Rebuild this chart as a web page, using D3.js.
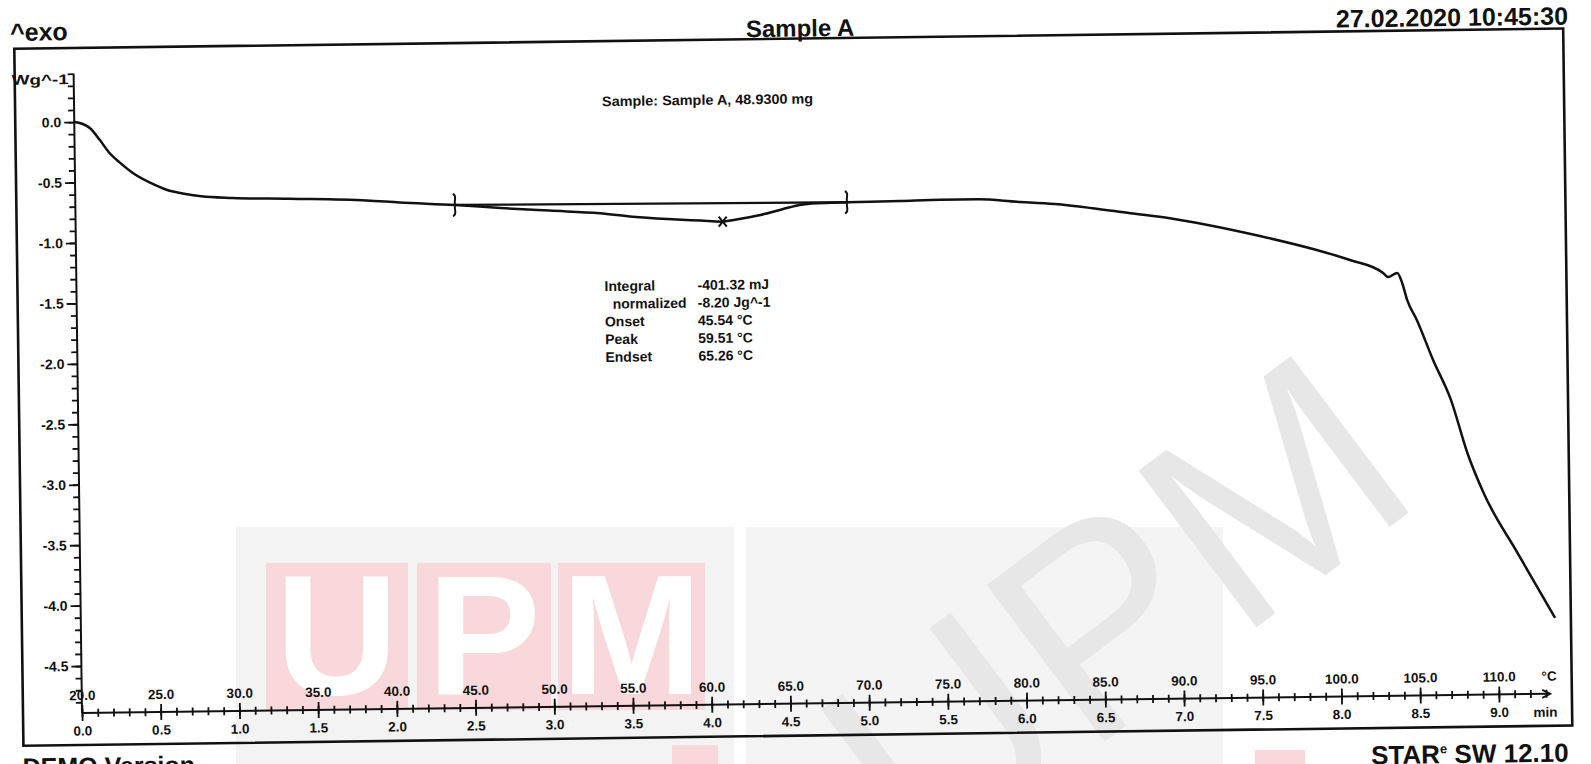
<!DOCTYPE html>
<html>
<head>
<meta charset="utf-8">
<script src="https://cdn.jsdelivr.net/npm/d3@7"></script>
<style>
  html, body { margin: 0; padding: 0; background: #ffffff; }
  svg { display: block; font-family: "Liberation Sans", Arial, sans-serif; }
</style>
</head>
<body>
<svg id="chart" width="1591" height="764"></svg>
<script>
// ---- DSC heating run: sample temperature (°C) and heat flow (W/g) ----
const temperature = [
  20.0, 20.5, 21.0, 21.6, 22.2, 22.9, 23.7, 24.8, 25.8, 27.0, 28.0, 30.0,
  33.6, 38.5, 40.6, 44.1, 47.0, 50.1, 53.3, 55.4, 57.6, 59.7, 61.1, 61.8,
  63.5, 64.9, 66.0, 67.1, 69.0, 72.4, 75.0, 77.3, 79.8, 82.2, 84.6, 87.0,
  89.5, 91.9, 95.2, 98.8, 100.9, 103.0, 103.3, 103.9, 104.2, 104.5, 105.1,
  106.1, 107.2, 108.2, 109.2, 111.3, 113.6
];
const heatFlow = [
  0.000, -0.015, -0.053, -0.150, -0.258, -0.345, -0.430, -0.512, -0.570, -0.607, -0.628, -0.645,
  -0.658, -0.680, -0.700, -0.727, -0.757, -0.784, -0.811, -0.843, -0.866, -0.883, -0.894, -0.881,
  -0.843, -0.798, -0.764, -0.752, -0.747, -0.742, -0.737, -0.737, -0.761, -0.784, -0.823, -0.869,
  -0.914, -0.974, -1.071, -1.193, -1.279, -1.390, -1.424, -1.391, -1.475, -1.615, -1.782,
  -2.115, -2.447, -2.888, -3.221, -3.720, -4.254
];

// integration limits and the peak point of the evaluated event
const limitTemps = [44.1, 69.0];
const limitFlows = [-0.727, -0.747];
const peakTemp = 61.1;
const peakFlow = -0.894;

// axis ticks and labels
const tempTicks = [20, 25, 30, 35, 40, 45, 50, 55, 60, 65, 70, 75, 80, 85, 90, 95, 100, 105, 110];
const tempLabels = ["20.0", "25.0", "30.0", "35.0", "40.0", "45.0", "50.0", "55.0", "60.0", "65.0",
  "70.0", "75.0", "80.0", "85.0", "90.0", "95.0", "100.0", "105.0", "110.0"];
const timeTicks = [0, 0.5, 1, 1.5, 2, 2.5, 3, 3.5, 4, 4.5, 5, 5.5, 6, 6.5, 7, 7.5, 8, 8.5, 9];
const timeLabels = ["0.0", "0.5", "1.0", "1.5", "2.0", "2.5", "3.0", "3.5", "4.0", "4.5", "5.0",
  "5.5", "6.0", "6.5", "7.0", "7.5", "8.0", "8.5", "9.0"];
const flowTicks = [0, -0.5, -1, -1.5, -2, -2.5, -3, -3.5, -4, -4.5];
const flowLabels = ["0.0", "-0.5", "-1.0", "-1.5", "-2.0", "-2.5", "-3.0", "-3.5", "-4.0", "-4.5"];

// evaluation results
const resultNames = ["Integral", "normalized", "Onset", "Peak", "Endset"];
const resultValues = ["-401.32 mJ", "-8.20 Jg^-1", "45.54 °C", "59.51 °C", "65.26 °C"];

const svg = d3.select("#chart");
const INK = "#111111";

// ---- faint repository watermark in the background ----
const wm = svg.append("g").attr("class", "watermark");
wm.append("rect").attr("x", 236).attr("y", 527).attr("width", 498).attr("height", 240).attr("fill", "#f3f3f3");
wm.append("rect").attr("x", 746).attr("y", 527).attr("width", 477).attr("height", 240).attr("fill", "#f4f4f4");
const blocks = [
  { x: 266, w: 142, ch: "U" },
  { x: 417, w: 134, ch: "P" },
  { x: 558, w: 147, ch: "M" }
];
blocks.forEach(b => {
  wm.append("rect").attr("x", b.x).attr("y", 563).attr("width", b.w).attr("height", 147).attr("fill", "#f8d8da");
  wm.append("text").attr("x", b.x + b.w / 2).attr("y", 694)
    .attr("text-anchor", "middle").attr("font-size", 170).attr("font-weight", "bold")
    .attr("fill", "#ffffff").text(b.ch);
});
wm.append("rect").attr("x", 672).attr("y", 745).attr("width", 46).attr("height", 20).attr("fill", "#f8d8da");
wm.append("rect").attr("x", 1255).attr("y", 750).attr("width", 50).attr("height", 15).attr("fill", "#f8d8da");
wm.append("text")
  .attr("transform", "translate(1115,610) rotate(-37)")
  .attr("text-anchor", "middle").attr("dominant-baseline", "central")
  .attr("font-size", 285).attr("fill", "#e7e7e7").text("UPM");

// ---- plot, slightly skewed like the printed sheet ----
const g = svg.append("g").attr("transform", "rotate(-0.75 82 713)");

const x = d3.scaleLinear().domain([20, 110]).range([82, 1499]);
const t = d3.scaleLinear().domain([0, 9]).range([82, 1499]);
const y = d3.scaleLinear().domain([0, -4.5]).range([122, 666]);
const axisY = 713;          // baseline of the abscissa
const axisEndTemp = 113.2;  // arrow tip of the abscissa
const yTop = 0.4;           // upper end of the ordinate

// frame
g.append("rect").attr("x", 23).attr("y", 48).attr("width", 1549).attr("height", 697)
  .attr("fill", "none").attr("stroke", INK).attr("stroke-width", 2.6);

// header and footer texts
g.append("text").attr("x", 19).attr("y", 40).attr("font-size", 25).attr("font-weight", "bold")
  .attr("fill", INK).text("^exo");
g.append("text").attr("x", 809).attr("y", 46).attr("text-anchor", "middle").attr("font-size", 24)
  .attr("font-weight", "bold").attr("fill", INK).text("Sample A");
g.append("text").attr("x", 1577).attr("y", 44).attr("text-anchor", "end").attr("font-size", 25)
  .attr("font-weight", "bold").attr("fill", INK).text("27.02.2020 10:45:30");
const star = g.append("text").attr("x", 1568).attr("y", 781).attr("text-anchor", "end")
  .attr("font-size", 26).attr("font-weight", "bold").attr("fill", INK);
star.append("tspan").text("STAR");
star.append("tspan").attr("font-size", 13).attr("dy", -10).text("e");
star.append("tspan").attr("dy", 10).text(" SW 12.10");
g.append("text").attr("x", 22).attr("y", 775).attr("font-size", 25).attr("font-weight", "bold")
  .attr("fill", INK).text("DEMO Version");

// ---- ordinate ----
const yAx = g.append("g").attr("transform", "translate(82,0)");
yAx.append("line").attr("y1", y(yTop)).attr("y2", axisY).attr("stroke", INK).attr("stroke-width", 2);
const yMinor = d3.range(-48, 5).map(i => i / 10);
yAx.append("g").call(d3.axisLeft(y).tickValues(yMinor).tickSize(6).tickFormat(""))
  .call(s => s.select(".domain").remove());
yAx.append("g").call(d3.axisLeft(y).tickValues(flowTicks).tickSize(10).tickPadding(3)
    .tickFormat((d, i) => flowLabels[i]))
  .call(s => s.select(".domain").remove())
  .call(s => s.selectAll("text").attr("font-size", 14).attr("font-weight", "bold")
    .attr("font-family", "Liberation Sans, Arial, sans-serif").attr("fill", INK));
yAx.selectAll(".tick line").attr("stroke", INK).attr("stroke-width", 1.8);
yAx.append("text").attr("x", -62).attr("y", 84).attr("font-size", 14)
  .attr("textLength", 57).attr("lengthAdjust", "spacingAndGlyphs")
  .attr("font-weight", "bold").attr("fill", INK).text("Wg^-1");

// ---- abscissa: temperature above, time below ----
const xAx = g.append("g").attr("transform", `translate(0,${axisY})`);
xAx.append("line").attr("x1", x(20)).attr("x2", x(axisEndTemp))
  .attr("stroke", INK).attr("stroke-width", 2);
xAx.append("path")
  .attr("d", `M${x(axisEndTemp) - 7},-4 L${x(axisEndTemp) + 1},0 L${x(axisEndTemp) - 7},4`)
  .attr("fill", "none").attr("stroke", INK).attr("stroke-width", 1.8);

const minorTemps = d3.range(20, 114);
const minorTimes = minorTemps.map(v => (v - 20) / 10);
const labelFont = s => s.selectAll("text").attr("font-size", 13.5).attr("font-weight", "bold")
  .attr("font-family", "Liberation Sans, Arial, sans-serif").attr("fill", INK);

xAx.append("g").call(d3.axisTop(x).tickValues(minorTemps).tickSize(4).tickFormat(""))
  .call(s => s.select(".domain").remove());
xAx.append("g").call(d3.axisBottom(t).tickValues(minorTimes).tickSize(4).tickFormat(""))
  .call(s => s.select(".domain").remove());
xAx.append("g").call(d3.axisTop(x).tickValues(tempTicks).tickSize(8).tickPadding(5)
    .tickFormat((d, i) => tempLabels[i]))
  .call(s => s.select(".domain").remove()).call(labelFont);
xAx.append("g").call(d3.axisBottom(t).tickValues(timeTicks).tickSize(8).tickPadding(5)
    .tickFormat((d, i) => timeLabels[i]))
  .call(s => s.select(".domain").remove()).call(labelFont);
xAx.selectAll(".tick line").attr("stroke", INK).attr("stroke-width", 1.8);

xAx.append("text").attr("x", x(axisEndTemp)).attr("y", -13).attr("text-anchor", "middle")
  .attr("font-size", 13.5).attr("font-weight", "bold").attr("fill", INK).text("°C");
xAx.append("text").attr("x", x(axisEndTemp) - 4).attr("y", 23).attr("text-anchor", "middle")
  .attr("font-size", 13.5).attr("font-weight", "bold").attr("fill", INK).text("min");

// ---- sample info and evaluation results ----
g.append("text").attr("x", 610).attr("y", 113).attr("font-size", 14).attr("font-weight", "bold")
  .attr("textLength", 211).attr("lengthAdjust", "spacingAndGlyphs")
  .attr("fill", INK).text("Sample: Sample A, 48.9300 mg");

const res = g.append("g").attr("font-size", 14).attr("font-weight", "bold").attr("fill", INK);
resultNames.forEach((name, i) => {
  res.append("text").attr("x", i === 1 ? 618 : 610).attr("y", 298 + i * 17.7).text(name);
  res.append("text").attr("x", 703).attr("y", 298 + i * 17.7).text(resultValues[i]);
});

// ---- measured curve, integration baseline and markers ----
const pts = temperature.map((v, i) => [v, heatFlow[i]]);
const line = d3.line().x(d => x(d[0])).y(d => y(d[1])).curve(d3.curveMonotoneX);
g.append("path").datum(pts).attr("d", line)
  .attr("fill", "none").attr("stroke", INK).attr("stroke-width", 2.5)
  .attr("stroke-linejoin", "round").attr("stroke-linecap", "round");

const base = limitTemps.map((v, i) => [v, limitFlows[i]]);
g.append("path").datum(base).attr("d", d3.line().x(d => x(d[0])).y(d => y(d[1])))
  .attr("fill", "none").attr("stroke", INK).attr("stroke-width", 2.3);

base.forEach(d => {
  const px = x(d[0]), py = y(d[1]);
  g.append("path")
    .attr("d", `M${px - 2},${py - 11} C${px + 2},${py - 10} ${px},${py - 6} ${px},${py - 3} L${px},${py + 3} C${px},${py + 6} ${px + 2},${py + 10} ${px - 2},${py + 11} M${px},${py} l3,0`)
    .attr("fill", "none").attr("stroke", INK).attr("stroke-width", 2);
});

const pkx = x(peakTemp), pky = y(peakFlow);
g.append("path")
  .attr("d", `M${pkx - 4},${pky - 5} L${pkx + 4},${pky + 5} M${pkx - 4},${pky + 5} L${pkx + 4},${pky - 5}`)
  .attr("stroke", INK).attr("stroke-width", 2);
</script>
</body>
</html>
